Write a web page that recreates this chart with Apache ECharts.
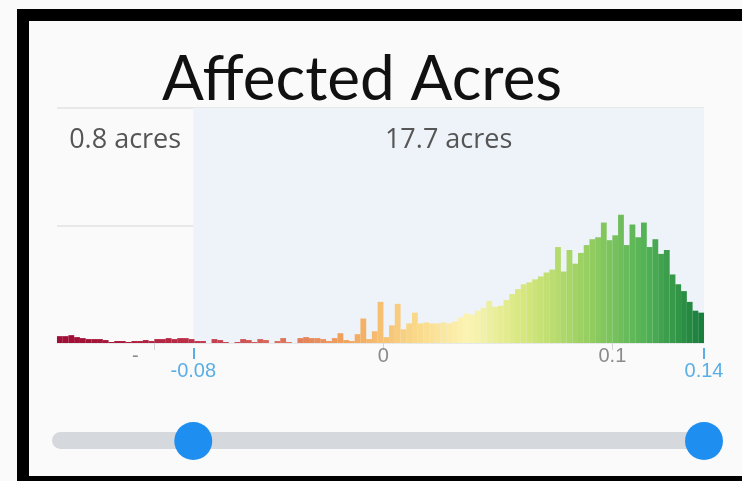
<!DOCTYPE html>
<html><head><meta charset="utf-8">
<script src="https://cdn.jsdelivr.net/npm/echarts@6/dist/echarts.min.js"></script>
<style>html,body{margin:0;padding:0;background:#fff}#c{width:742px;height:481px}</style>
</head><body><div id="c"></div>
<script>
const titleText = 'Affected Acres';
const xMin = -0.1425;
const xMax = 0.14;
const binStart = -0.1425;
const binWidth = 0.0025;
const counts = [7,7,8,6,5,4,4,4,3,
  1,2,2,1,2,2,3,2,4,4,5,4,5,5,4,
  2,2,0,4,3,1,0,1,4,3,
  1,4,3,0,2,5,1,0,5,6,
  5,5,4,2,5,10,3,2,9,25,
  4,12,42,6,18,40,14,20,31,20,
  21,20,20,21,20,22,26,30,29,33,
  36,43,37,38,44,50,55,60,62,65,
  68,72,75,98,73,95,81,92,100,106,
  108,123,105,110,131,100,121,108,123,98,
  106,91,95,70,60,53,42,33,31];
const axisTicks = [-0.1, 0, 0.1];
const axisTickLabels = ['{m|-}', '0', '0.1'];
const selection = [-0.083, 0.14];
const selectionLabels = ['-0.08', '0.14'];
const acreLabels = ['0.8 acres', '17.7 acres'];
const colorStops = ['#9e0d35','#a8183a','#b72a45','#cc4a55','#e07a5a','#f2a85e','#f9d585','#fbf4b4','#d4e67a','#98cf62','#52b256','#177c3c'];

const data = counts.map((v, i) => [binStart + binWidth * (i + 0.5), v]);
const chart = echarts.init(document.getElementById('c'));
const blue = '#5aaee6';

chart.setOption({
  backgroundColor: '#fafafa',
  animation: false,
  title: {
    text: titleText, left: 157, top: 44,
    textStyle: {fontSize: 62, fontFamily: 'Lato', fontWeight: 'normal', color: '#111'}
  },
  grid: {left: 57, right: 38, top: 108, bottom: 138},
  xAxis: [{
    type: 'value', min: xMin, max: xMax,
    axisLine: {show: false},
    splitLine: {show: false},
    axisTick: {show: true, customValues: axisTicks, length: 7, lineStyle: {color: '#cfd3d6', width: 1}},
    axisLabel: {
      customValues: axisTicks, margin: 3, color: '#8a8a8a', fontSize: 20, fontFamily: 'Liberation Sans',
      rich: {m: {color: '#8a8a8a', fontSize: 20, fontFamily: 'Liberation Sans', padding: [0, 38, 0, 0]}},
      formatter: v => { const k = axisTicks.findIndex(t => Math.abs(t - v) < 1e-9); return k >= 0 ? axisTickLabels[k] : ''; }
    }
  }, {
    type: 'value', min: xMin, max: xMax, position: 'bottom', offset: 5,
    axisLine: {show: false},
    splitLine: {show: false},
    axisTick: {show: true, customValues: selection, length: 11, lineStyle: {color: blue, width: 2}},
    axisLabel: {
      customValues: selection, margin: 13, color: blue, fontSize: 20, fontFamily: 'Liberation Sans',
      formatter: v => { const k = selection.findIndex(t => Math.abs(t - v) < 1e-9); return k >= 0 ? selectionLabels[k] : ''; }
    }
  }],
  yAxis: {
    type: 'value', min: 0, max: 240, interval: 120,
    axisLabel: {show: false}, axisLine: {show: false}, axisTick: {show: false},
    splitLine: {lineStyle: {color: '#e6e8ea', width: 2}}
  },
  visualMap: {
    type: 'continuous', show: false, dimension: 0, seriesIndex: 0,
    min: xMin, max: xMax, inRange: {color: colorStops}
  },
  series: [{
    type: 'bar', xAxisIndex: 0, data: data, barWidth: 5.8,
    markArea: {
      silent: true,
      label: {show: true, position: 'insideTop', distance: 19, color: '#555', fontSize: 27, fontFamily: 'Open Sans'},
      data: [
        [{xAxis: xMin, name: acreLabels[0], itemStyle: {color: 'rgba(0,0,0,0)'}}, {xAxis: selection[0]}],
        [{xAxis: selection[0], name: acreLabels[1], itemStyle: {color: '#eef3f9'}}, {xAxis: selection[1]}]
      ]
    }
  }]
});

const lx = chart.convertToPixel({xAxisIndex: 0}, selection[0]);
const rx = chart.convertToPixel({xAxisIndex: 0}, selection[1]);
chart.setOption({
  graphic: [
    {type: 'rect', shape: {x: 52, y: 432, width: 653, height: 17, r: 8.5}, style: {fill: '#d5d9dd'}},
    {type: 'circle', shape: {cx: lx, cy: 441, r: 19}, style: {fill: '#1e8ff0'}},
    {type: 'circle', shape: {cx: rx, cy: 441, r: 19}, style: {fill: '#1e8ff0'}},
    {type: 'rect', z: 100, shape: {x: 17, y: 9, width: 12, height: 472}, style: {fill: '#000'}},
    {type: 'rect', z: 100, shape: {x: 17, y: 9, width: 725, height: 12}, style: {fill: '#000'}},
    {type: 'rect', z: 100, shape: {x: 17, y: 476, width: 725, height: 5}, style: {fill: '#000'}}
  ]
});
</script></body></html>
